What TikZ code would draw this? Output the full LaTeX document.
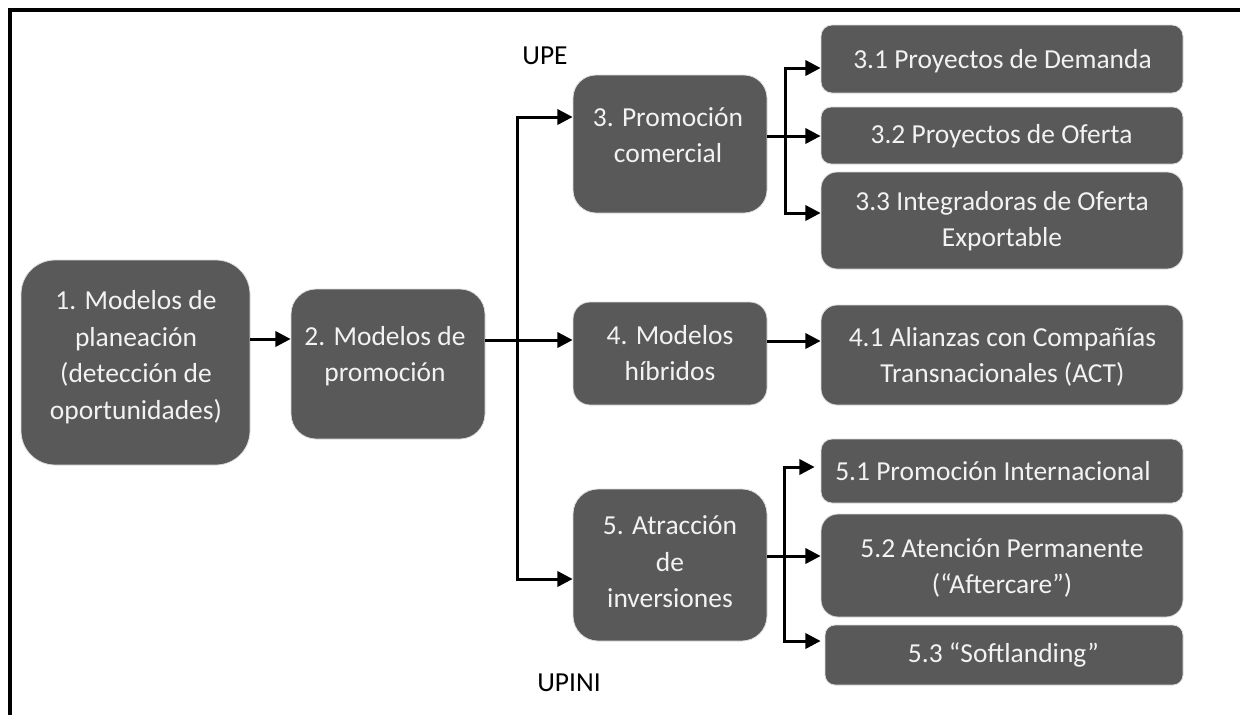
\documentclass[tikz,border=0pt]{standalone}
\usepackage{fontspec}
\setmainfont{Carlito}
\usetikzlibrary{arrows.meta,calc}
\definecolor{boxgray}{HTML}{595959}
\definecolor{txtgray}{HTML}{F2F2F2}
\tikzset{
  box/.style={rectangle, fill=boxgray, draw=white!80!boxgray, line width=0.6pt, inner sep=0pt},
  txt/.style={text=txtgray, align=center, inner sep=0pt, font=\fontsize{20.6pt}{27.4pt}\selectfont},
  lbl/.style={text=black, inner sep=0pt, font=\fontsize{20.6pt}{27.4pt}\selectfont},
  ln/.style={line width=2.25pt, draw=black},
  arr/.style={ln, -{Triangle[length=11.5pt,width=11.5pt]}},
  frame/.style={line width=2.5pt, draw=black}
}
\begin{document}
\begin{tikzpicture}[x=0.75pt,y=-0.75pt]
\useasboundingbox (0,0) rectangle (1240,715);
% frame
\draw[frame] (10,715) -- (10,10) -- (1240,10);
% boxes
\node[box, minimum width=171.75pt, minimum height=153.75pt, rounded corners=25.5pt] (b1) at (135.5,362.5) {};
\node[box, minimum width=145.5pt, minimum height=112.5pt, rounded corners=18.75pt] (b2) at (388,364) {};
\node[box, minimum width=145.5pt, minimum height=103.5pt, rounded corners=17.25pt] (b3) at (670,144) {};
\node[box, minimum width=145.5pt, minimum height=77.25pt, rounded corners=12.75pt] (b4) at (670,353.5) {};
\node[box, minimum width=145.5pt, minimum height=114pt, rounded corners=18.75pt] (b5) at (670,565) {};
\node[box, minimum width=271.5pt, minimum height=51pt, rounded corners=8.25pt] (b31) at (1002,59) {};
\node[box, minimum width=271.5pt, minimum height=42.75pt, rounded corners=7.5pt] (b32) at (1002,135.5) {};
\node[box, minimum width=271.5pt, minimum height=72.75pt, rounded corners=12pt] (b33) at (1002,220.5) {};
\node[box, minimum width=271.5pt, minimum height=75pt, rounded corners=12pt] (b41) at (1002,355) {};
\node[box, minimum width=271.5pt, minimum height=48pt, rounded corners=8.25pt] (b51) at (1002,471) {};
\node[box, minimum width=271.5pt, minimum height=77.25pt, rounded corners=12.75pt] (b52) at (1002,565.5) {};
\node[box, minimum width=268.5pt, minimum height=45pt, rounded corners=7.5pt] (b53) at (1004,655) {};
% texts
\node[txt] (t1) at (136,357) {1. Modelos de\\planeación\\(detección de\\oportunidades)};
\node[txt] (t2) at (385,356) {2. Modelos de\\promoción};
\node[txt] (t3) at (668,135) {3. Promoción\\comercial};
\node[txt] (t4) at (670,353) {4. Modelos\\híbridos};
\node[txt] (t5) at (670,562) {5. Atracción\\de\\inversiones};
\node[txt] (t31) at (1002.5,61) {3.1 Proyectos de Demanda};
\node[txt] (t32) at (1001.5,136) {3.2 Proyectos de Oferta};
\node[txt] (t33) at (1002,221) {3.3 Integradoras de Oferta\\Exportable};
\node[txt] (t41) at (1002.5,357) {4.1 Alianzas con Compañías\\Transnacionales (ACT)};
\node[txt] (t51) at (993,471) {5.1 Promoción Internacional};
\node[txt] (t52) at (1002,568) {5.2 Atención Permanente\\(“Aftercare”)};
\node[txt] (t53) at (1003.5,655) {5.3 “Softlanding”};
% labels
\node[lbl] (upe) at (545,56) {UPE};
\node[lbl] (upini) at (569,683) {UPINI};
% connectors
\draw[arr] (b1.east |- 0,339) -- (b2.west |- 0,339);
\coordinate (j1) at (517,340);
\draw[ln] (b2.east |- j1) -- (j1);
\draw[arr] (j1) |- (b3.west |- 0,117);
\draw[arr] (j1) -- (b4.west |- j1);
\draw[arr] (j1) |- (b5.west |- 0,579);
\coordinate (j3) at (785,136);
\draw[ln] (b3.east |- j3) -- (j3);
\draw[arr] (j3) |- (b31.west |- 0,68);
\draw[arr] (j3) -- (b32.west |- j3);
\draw[arr] (j3) |- (b33.west |- 0,213);
\draw[arr] (b4.east |- 0,341) -- (b41.west |- 0,341);
\coordinate (j5) at (784,556);
\draw[ln] (b5.east |- j5) -- (j5);
\draw[arr, shorten >=4.5pt] (j5) |- (b51.west |- 0,467);
\draw[arr] (j5) -- (b52.west |- j5);
\draw[arr, shorten >=3pt] (j5) |- (b53.west |- 0,641);
\end{tikzpicture}
\end{document}
